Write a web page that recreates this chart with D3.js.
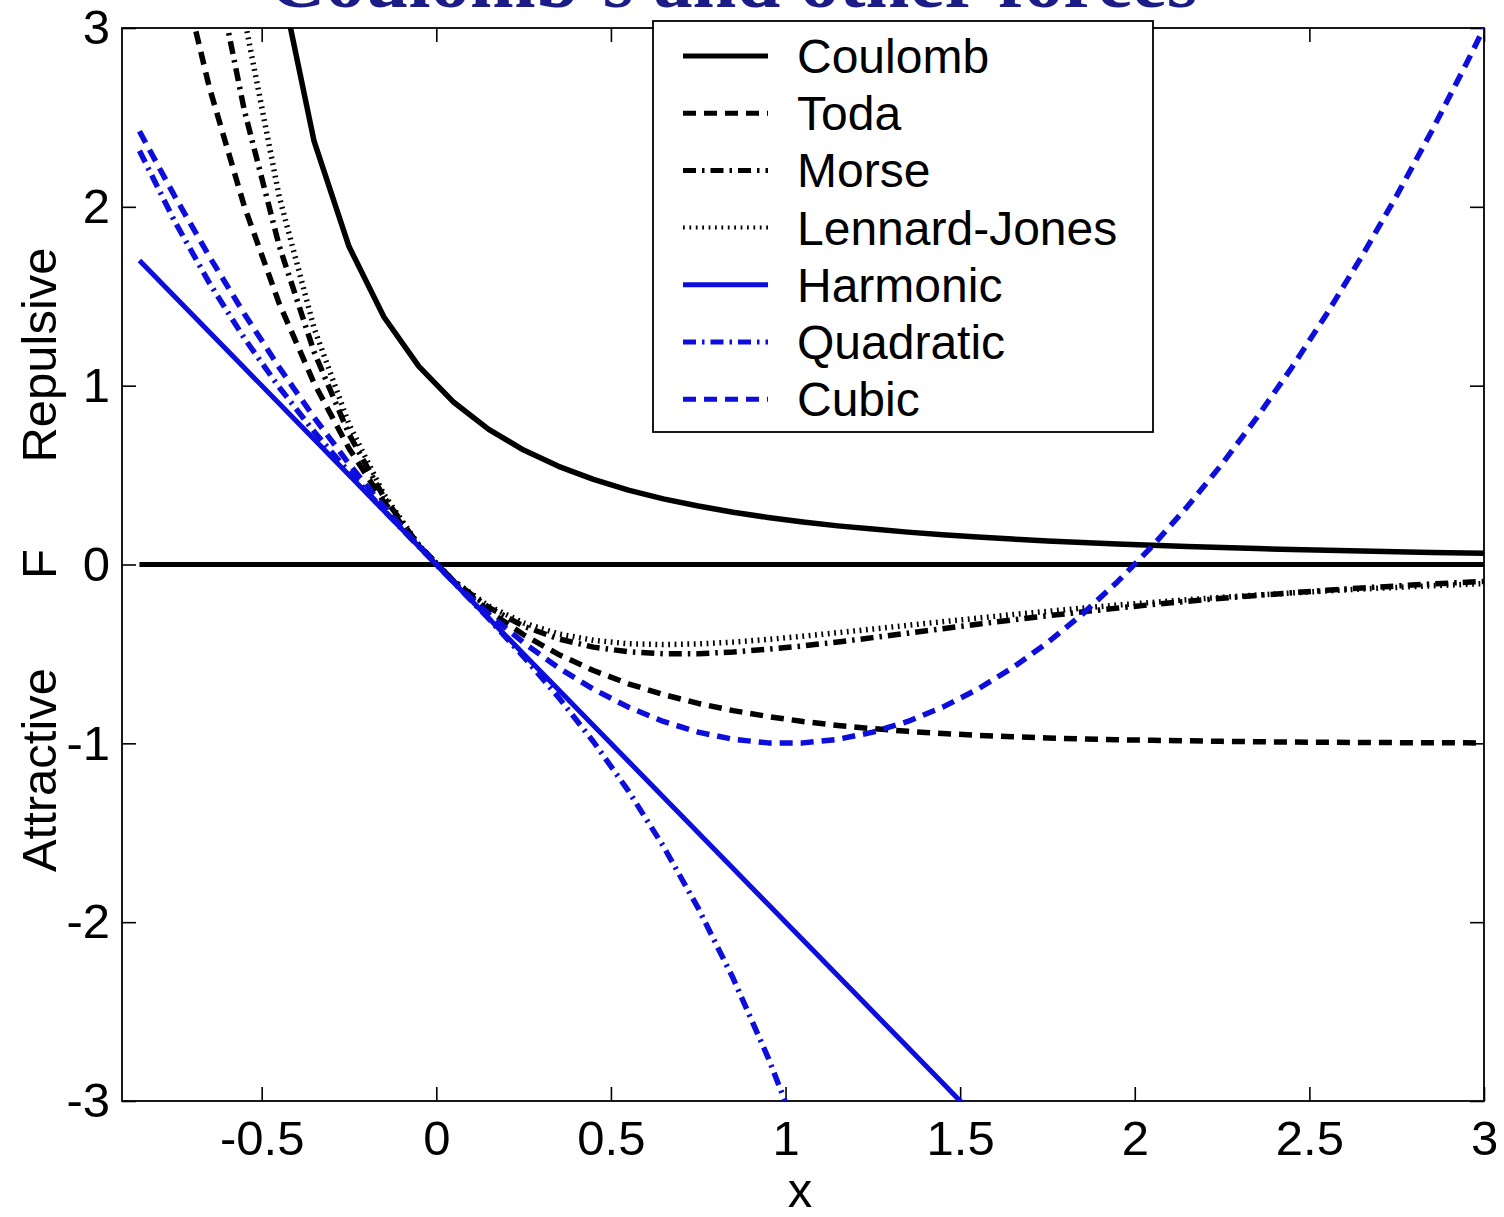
<!DOCTYPE html>
<html>
<head>
<meta charset="utf-8">
<script src="https://cdn.jsdelivr.net/npm/d3@7"></script>
<style>
  html, body { margin: 0; padding: 0; background: #fff; }
  svg { display: block; }
</style>
</head>
<body>
<svg id="chart" width="1504" height="1217"></svg>
<script>
// Sample positions (separation x) shared by every force curve
const xs = [-0.85, -0.75, -0.65, -0.55, -0.45, -0.35, -0.25, -0.15, -0.05, 0.05,
            0.15, 0.25, 0.35, 0.45, 0.55, 0.65, 0.75, 0.85, 0.95, 1.05,
            1.15, 1.25, 1.35, 1.45, 1.55, 1.65, 1.75, 1.85, 1.95, 2.05,
            2.15, 2.25, 2.35, 2.45, 2.55, 2.65, 2.75, 2.85, 2.95, 3.00];

const coulomb = [44.44, 16.0, 8.163, 4.938, 3.306, 2.367, 1.778, 1.384, 1.108, 0.907,
                 0.756, 0.640, 0.549, 0.476, 0.416, 0.367, 0.327, 0.292, 0.263, 0.238,
                 0.216, 0.198, 0.181, 0.167, 0.154, 0.142, 0.132, 0.123, 0.115, 0.1075,
                 0.1008, 0.0947, 0.0891, 0.0840, 0.0793, 0.0751, 0.0711, 0.0675, 0.0641, 0.0625];

const toda = [4.474, 3.482, 2.669, 2.004, 1.460, 1.014, 0.649, 0.350, 0.105, -0.095,
              -0.259, -0.393, -0.503, -0.593, -0.667, -0.727, -0.777, -0.817, -0.850, -0.878,
              -0.900, -0.918, -0.933, -0.945, -0.955, -0.963, -0.970, -0.975, -0.980, -0.983,
              -0.986, -0.989, -0.991, -0.993, -0.994, -0.995, -0.996, -0.997, -0.997, -0.998];

const morse = [6.269, 4.729, 3.508, 2.542, 1.783, 1.189, 0.729, 0.376, 0.108, -0.093,
               -0.240, -0.345, -0.416, -0.462, -0.488, -0.499, -0.499, -0.489, -0.474, -0.455,
               -0.433, -0.409, -0.384, -0.359, -0.334, -0.310, -0.287, -0.265, -0.244, -0.224,
               -0.206, -0.189, -0.173, -0.158, -0.144, -0.131, -0.120, -0.109, -0.099, -0.095];

const lennardJones = [8.746, 6.254, 4.416, 3.059, 2.059, 1.322, 0.784, 0.392, 0.109, -0.092,
                      -0.232, -0.327, -0.388, -0.424, -0.443, -0.448, -0.444, -0.434, -0.419, -0.401,
                      -0.381, -0.361, -0.340, -0.320, -0.300, -0.280, -0.262, -0.244, -0.227, -0.212,
                      -0.197, -0.183, -0.171, -0.159, -0.148, -0.137, -0.128, -0.119, -0.111, -0.107];

const harmonic = [1.7, 1.5, 1.3, 1.1, 0.9, 0.7, 0.5, 0.3, 0.1, -0.1,
                  -0.3, -0.5, -0.7, -0.9, -1.1, -1.3, -1.5, -1.7, -1.9, -2.1,
                  -2.3, -2.5, -2.7, -2.9, -3.1, -3.3, -3.5, -3.7, -3.9, -4.1,
                  -4.3, -4.5, -4.7, -4.9, -5.1, -5.3, -5.5, -5.7, -5.9, -6.0];

const quadratic = [2.314, 1.922, 1.575, 1.266, 0.991, 0.743, 0.516, 0.303, 0.100, -0.100,
                   -0.303, -0.516, -0.743, -0.991, -1.266, -1.575, -1.922, -2.314, -2.757, -3.258,
                   -3.821, -4.453, -5.160, -5.949, -6.824, -7.792, -8.859, -10.03, -11.32, -12.72,
                   -14.24, -15.89, -17.68, -19.61, -21.68, -23.91, -26.30, -28.85, -31.57, -33.0];

const cubic = [2.4225, 2.0625, 1.7225, 1.4025, 1.1025, 0.8225, 0.5625, 0.3225, 0.1025, -0.0975,
               -0.2775, -0.4375, -0.5775, -0.6975, -0.7975, -0.8775, -0.9375, -0.9775, -0.9975, -0.9975,
               -0.9775, -0.9375, -0.8775, -0.7975, -0.6975, -0.5775, -0.4375, -0.2775, -0.0975, 0.1025,
               0.3225, 0.5625, 0.8225, 1.1025, 1.4025, 1.7225, 2.0625, 2.4225, 2.8025, 3.0];

const zeroLine = xs.map(() => 0);

const legendLabels = ["Coulomb", "Toda", "Morse", "Lennard-Jones", "Harmonic", "Quadratic", "Cubic"];
const xTicks = [-0.5, 0, 0.5, 1, 1.5, 2, 2.5, 3];
const yTicks = [-3, -2, -1, 0, 1, 2, 3];
const xDomain = [-0.9, 3];
const yDomain = [-3, 3];

// ---- layout ----
const svg = d3.select("#chart");
const plot = { left: 122, right: 1484, top: 28, bottom: 1101 };
const BLUE = "#0d0ddc";
const NAVY = "#1c1c86";
const sans = "'Liberation Sans', Arial, sans-serif";
const plainNumber = d => String(d);   // hyphen-minus, as in the axis labels

const x = d3.scaleLinear().domain(xDomain).range([plot.left, plot.right]);
const y = d3.scaleLinear().domain(yDomain).range([plot.bottom, plot.top]);

// title, partly above the top of the page
svg.append("text")
  .attr("x", 733).attr("y", 7)
  .attr("text-anchor", "middle")
  .attr("font-family", "'Liberation Serif', 'Times New Roman', serif")
  .attr("font-weight", "bold")
  .attr("font-size", 79)
  .attr("fill", NAVY)
  .attr("textLength", 929)
  .attr("lengthAdjust", "spacingAndGlyphs")
  .text("Coulomb\u2019s and other forces");

svg.append("defs").append("clipPath").attr("id", "plotClip")
  .append("rect")
  .attr("x", plot.left).attr("y", plot.top)
  .attr("width", plot.right - plot.left).attr("height", plot.bottom - plot.top);

// ---- axes (ticks point inward on all four sides) ----
const TICK = 14;
const styleAxis = g => {
  g.selectAll(".domain").remove();
  g.selectAll(".tick line").attr("stroke", "#000").attr("stroke-width", 1.6);
  g.selectAll(".tick text").attr("font-family", sans).attr("font-size", 49).attr("fill", "#000");
};

svg.append("g")
  .attr("transform", `translate(0,${plot.bottom})`)
  .call(d3.axisBottom(x).tickValues(xTicks).tickSizeInner(-TICK).tickSizeOuter(0).tickPadding(19)
        .tickFormat(plainNumber))
  .call(styleAxis);

svg.append("g")
  .attr("transform", `translate(0,${plot.top})`)
  .call(d3.axisTop(x).tickValues(xTicks).tickSizeInner(-TICK).tickSizeOuter(0).tickFormat(() => ""))
  .call(styleAxis);

svg.append("g")
  .attr("transform", `translate(${plot.left},0)`)
  .call(d3.axisLeft(y).tickValues(yTicks).tickSizeInner(-TICK).tickSizeOuter(0).tickPadding(12)
        .tickFormat(plainNumber))
  .call(styleAxis);

svg.append("g")
  .attr("transform", `translate(${plot.right},0)`)
  .call(d3.axisRight(y).tickValues(yTicks).tickSizeInner(-TICK).tickSizeOuter(0).tickFormat(() => ""))
  .call(styleAxis);

// frame
svg.append("rect")
  .attr("x", plot.left).attr("y", plot.top)
  .attr("width", plot.right - plot.left).attr("height", plot.bottom - plot.top)
  .attr("fill", "none").attr("stroke", "#000").attr("stroke-width", 1.8);

// ---- axis titles ----
svg.append("text")
  .attr("x", 800).attr("y", 1207)
  .attr("text-anchor", "middle")
  .attr("font-family", sans).attr("font-size", 49)
  .text("x");

const yLab = svg.append("g").attr("font-family", sans).attr("font-size", 49).attr("text-anchor", "middle");
[["Repulsive", 355], ["F", 564], ["Attractive", 770]].forEach(([t, cy]) => {
  yLab.append("text")
    .attr("transform", `translate(56,${cy}) rotate(-90)`)
    .text(t);
});

// ---- force curves ----
const series = [
  { name: "Coulomb",       values: coulomb,      color: "#000", width: 5.5, dash: null },
  { name: "Toda",          values: toda,         color: "#000", width: 5.5, dash: "13,8" },
  { name: "Morse",         values: morse,        color: "#000", width: 5.5, dash: "13,6,2.5,6" },
  { name: "Lennard-Jones", values: lennardJones, color: "#000", width: 5.5, dash: "1.8,4.6" },
  { name: "Harmonic",      values: harmonic,     color: BLUE,   width: 5,   dash: null },
  { name: "Quadratic",     values: quadratic,    color: BLUE,   width: 5.5, dash: "13,6,2.5,6" },
  { name: "Cubic",         values: cubic,        color: BLUE,   width: 5.5, dash: "13,8" }
];

const line = d3.line().x(d => x(d[0])).y(d => y(d[1]));
const curves = svg.append("g").attr("clip-path", "url(#plotClip)");

curves.append("path")
  .attr("d", line(xs.map((v, i) => [v, zeroLine[i]])))
  .attr("fill", "none").attr("stroke", "#000").attr("stroke-width", 5);

series.forEach(s => {
  curves.append("path")
    .attr("d", line(xs.map((v, i) => [v, s.values[i]])))
    .attr("fill", "none")
    .attr("stroke", s.color)
    .attr("stroke-width", s.width)
    .attr("stroke-dasharray", s.dash)
    .attr("stroke-linejoin", "round");
});

// ---- legend ----
const legend = svg.append("g").attr("transform", "translate(653,21)");
legend.append("rect")
  .attr("width", 500).attr("height", 411)
  .attr("fill", "#fff").attr("stroke", "#000").attr("stroke-width", 1.8);

series.forEach((s, i) => {
  const cy = 35 + i * 57.2;
  legend.append("line")
    .attr("x1", 30).attr("x2", 115).attr("y1", cy).attr("y2", cy)
    .attr("stroke", s.color).attr("stroke-width", s.name === "Lennard-Jones" ? 4 : 5)
    .attr("stroke-dasharray", s.dash);
  legend.append("text")
    .attr("x", 144).attr("y", cy + 17)
    .attr("font-family", sans).attr("font-size", 48)
    .text(legendLabels[i]);
});
</script>
</body>
</html>
